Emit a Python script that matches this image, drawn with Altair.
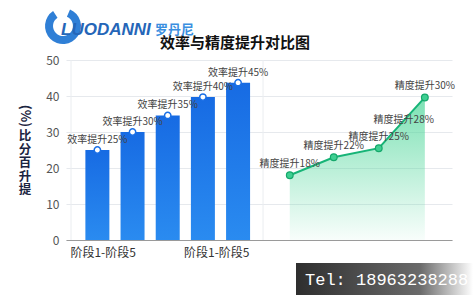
import altair as alt
import pandas as pd

FONT = "Noto Sans CJK SC"

# ---- data ----
bar_pos = [0.75, 1.75, 2.75, 3.75, 4.75]
bar_values = [25, 30, 34.6, 39.7, 43.7]
bar_labels = ["效率提升25%", "效率提升30%", "效率提升35%", "效率提升40%", "效率提升45%"]

line_pos = [6.22, 7.47, 8.75, 10.06]
line_values = [18, 23, 25.5, 39.6]

line_label_pos = [6.22, 7.47, 8.75, 10.06]
line_label_vals = [18, 23, 25.5, 39.6]
line_labels = ["精度提升18%", "精度提升22%", "精度提升25%", "精度提升30%"]

mid_label_pos = [9.46]
mid_label_vals = [33.2]
mid_labels = ["精度提升28%"]

x_tick_pos = [0.9, 4.13]
x_tick_text = "阶段1-阶段5"
y_ticks = [0, 10, 20, 30, 40, 50]
vgrid_pos = [0, 5.46]

df_bar = pd.DataFrame({"x": bar_pos, "v": bar_values, "label": bar_labels})
df_line = pd.DataFrame({"x": line_pos, "v": line_values})
df_ll = pd.DataFrame({"x": line_label_pos, "v": line_label_vals, "label": line_labels})
df_mid = pd.DataFrame({"x": mid_label_pos, "v": mid_label_vals, "label": mid_labels})
df_vg = pd.DataFrame({"x": vgrid_pos})

X_DOMAIN = [0, 10.69]
xs = alt.Scale(domain=X_DOMAIN, nice=False, zero=False)
ys = alt.Scale(domain=[0, 50], nice=False)

x_axis = alt.Axis(values=x_tick_pos, labelExpr=f"'{x_tick_text}'", grid=False,
                  ticks=False, domain=True, domainColor="#9a9a9a", domainWidth=1.2,
                  labelFont=FONT, labelFontSize=12, labelColor="#333333",
                  labelPadding=7, labelOverlap=False, title=None)
y_axis = alt.Axis(values=y_ticks, grid=True, gridColor="#e6e9ed",
                  ticks=False, domain=False, labelFont=FONT, labelFontSize=12,
                  labelColor="#555555", labelPadding=7, labelOverlap=False,
                  labelFlush=False, title=None)

X = lambda: alt.X("x:Q", scale=xs, axis=x_axis)
Y = lambda: alt.Y("v:Q", scale=ys, axis=y_axis)

vgrid = alt.Chart(df_vg).mark_rule(color="#eaedf0", strokeWidth=1).encode(
    x=X(), y=alt.value(0), y2=alt.value(180)
)

bars = alt.Chart(df_bar).mark_bar(
    size=24,
    color=alt.Gradient(gradient="linear", x1=0, y1=0, x2=0, y2=1,
                       stops=[alt.GradientStop(offset=0, color="#176be3"),
                              alt.GradientStop(offset=1, color="#2a8bf0")])
).encode(x=X(), y=Y())

bar_pts = alt.Chart(df_bar).mark_point(
    shape="circle", filled=True, fill="white", stroke="#1a6fe6", strokeWidth=1.5, size=40, opacity=1
).encode(x=X(), y=Y())

bar_text = alt.Chart(df_bar).mark_text(
    font=FONT, fontSize=10, color="#444444", dy=-10, baseline="middle"
).encode(x=X(), y=Y(), text="label:N")

area = alt.Chart(df_line).mark_area(
    line=False,
    color=alt.Gradient(gradient="linear", x1=0, y1=0, x2=0, y2=1,
                       stops=[alt.GradientStop(offset=0, color="rgba(80,215,155,0.75)"),
                              alt.GradientStop(offset=1, color="rgba(80,215,155,0.04)")])
).encode(x=X(), y=Y())

line = alt.Chart(df_line).mark_line(color="#17b477", strokeWidth=2).encode(x=X(), y=Y())

line_pts = alt.Chart(df_line).mark_point(
    shape="circle", filled=True, fill="#3fcf92", stroke="#15a86b", strokeWidth=1.2, size=45, opacity=1
).encode(x=X(), y=Y())

line_text = alt.Chart(df_ll).mark_text(
    font=FONT, fontSize=10, color="#444444", dy=-11, baseline="middle"
).encode(x=X(), y=Y(), text="label:N")

mid_text = alt.Chart(df_mid).mark_text(
    font=FONT, fontSize=10, color="#444444", baseline="middle"
).encode(x=X(), y=Y(), text="label:N")

# ---- titles / decorations ----
one = pd.DataFrame({"k": [0]})

title = alt.Chart(one).mark_text(
    text="效率与精度提升对比图", font=FONT, fontSize=15, fontWeight="bold", color="#111111",
    align="center", baseline="middle"
).encode(x=alt.value(169), y=alt.value(-17))

ytitle_pct = alt.Chart(one).mark_text(
    text="(%)", font=FONT, fontSize=13, fontWeight="bold", color="#1b2440",
    angle=90, align="center", baseline="middle"
).encode(x=alt.value(-41), y=alt.value(56))

ytitle_cn = alt.Chart(one).mark_text(
    text=["比", "分", "百", "升", "提"], font=FONT, fontSize=12.5, fontWeight="bold",
    color="#1b2440", align="center", baseline="top", lineHeight=13.6
).encode(x=alt.value(-41), y=alt.value(70))

logo_ring = alt.Chart(one).mark_arc(
    color="#2f7fd6", radius=18, radius2=10, theta=0.4, theta2=5.7
).encode(x=alt.value(-3), y=alt.value(-34))

logo_text = alt.Chart(one).mark_text(
    text="LUODANNI", font="Liberation Sans", fontSize=17, fontWeight="bold",
    fontStyle="italic", color="#2566b8", align="left", baseline="middle"
).encode(x=alt.value(-5), y=alt.value(-30))

logo_cn = alt.Chart(one).mark_text(
    text="罗丹尼", font=FONT, fontSize=13, fontWeight="bold", color="#3a8fe0",
    align="left", baseline="middle"
).encode(x=alt.value(89), y=alt.value(-30))

tel_box = alt.Chart(one).mark_rect(
    color=alt.Gradient(gradient="linear", x1=0, y1=0, x2=1, y2=0,
                       stops=[alt.GradientStop(offset=0, color="#2e2e2e"),
                              alt.GradientStop(offset=0.7, color="#6a6a6a"),
                              alt.GradientStop(offset=1, color="#ffffff")])
).encode(x=alt.value(230), x2=alt.value(407), y=alt.value(203), y2=alt.value(235))

tel_text = alt.Chart(one).mark_text(
    text="Tel: 18963238288", font="Liberation Mono", fontSize=17, color="#ffffff",
    align="left", baseline="middle"
).encode(x=alt.value(239), y=alt.value(220))

chart = alt.layer(
    vgrid, area, bars, bar_pts, bar_text, line, line_pts, line_text, mid_text,
    title, ytitle_pct, ytitle_cn, logo_ring, logo_text, logo_cn, tel_box, tel_text
).properties(
    width=386, height=180,
    autosize=alt.AutoSizeParams(type="none"),
    padding={"left": 66, "top": 60, "right": 21, "bottom": 60},
    background="white"
).configure_view(stroke=None)

chart.save("out.html", embed_options={"renderer": "svg", "actions": False})
